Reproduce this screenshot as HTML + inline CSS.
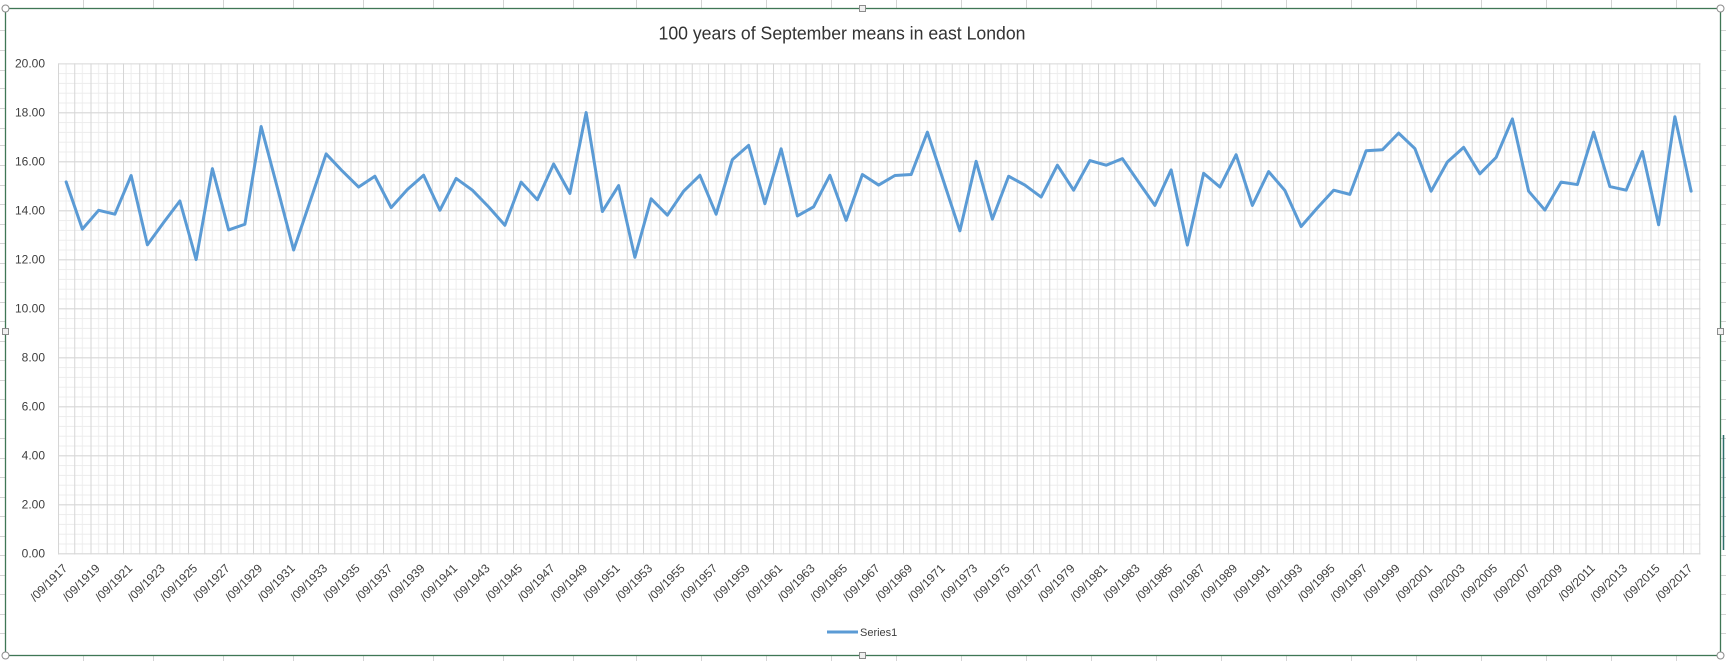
<!DOCTYPE html>
<html><head><meta charset="utf-8"><style>
html,body{margin:0;padding:0;background:#fff;}
svg{display:block;}
text{font-family:"Liberation Sans",sans-serif;}
</style></head><body>
<svg width="1726" height="661" viewBox="0 0 1726 661" xmlns="http://www.w3.org/2000/svg">
<defs>
<pattern id="minor" patternUnits="userSpaceOnUse" x="58" y="63.3" width="16.25" height="9.8">
<rect x="7.6" y="0" width="1" height="9.8" fill="#eeeeee"/>
<rect x="0" y="0" width="16.25" height="1" fill="#ececec"/>
</pattern>
<pattern id="major" patternUnits="userSpaceOnUse" x="58" y="63.3" width="16.25" height="49">
<rect x="0" y="0" width="1" height="49" fill="#d6d6d6"/>
<rect x="0" y="0" width="16.25" height="1" fill="#d6d6d6"/>
</pattern>
</defs>
<g stroke="#d4d4d4" stroke-width="1">
<path d="M83.5,0V8 M153.5,0V8 M223.5,0V8 M293.5,0V8 M363.5,0V8 M433.5,0V8 M503.5,0V8 M573.5,0V8 M636.5,0V8 M701.5,0V8 M766.5,0V8 M831.5,0V8 M896.5,0V8 M961.5,0V8 M1026.5,0V8 M1091.5,0V8 M1156.5,0V8 M1221.5,0V8 M1286.5,0V8 M1351.5,0V8 M1416.5,0V8 M1481.5,0V8 M1546.5,0V8 M1611.5,0V8 M1676.5,0V8"/>
<path d="M83.5,655V661 M153.5,655V661 M223.5,655V661 M293.5,655V661 M363.5,655V661 M433.5,655V661 M503.5,655V661 M573.5,655V661 M636.5,655V661 M701.5,655V661 M766.5,655V661 M831.5,655V661 M896.5,655V661 M961.5,655V661 M1026.5,655V661 M1091.5,655V661 M1156.5,655V661 M1221.5,655V661 M1286.5,655V661 M1351.5,655V661 M1416.5,655V661 M1481.5,655V661 M1546.5,655V661 M1611.5,655V661 M1676.5,655V661"/>
<path d="M0,30.5H5 M0,50.5H5 M0,70.5H5 M0,88.5H5 M0,108.5H5 M0,128.5H5 M0,145.5H5 M0,165.5H5 M0,185.5H5 M0,204.5H5 M0,224.5H5 M0,243.5H5 M0,263.5H5 M0,282.5H5 M0,302.5H5 M0,321.5H5 M0,341.5H5 M0,360.5H5 M0,380.5H5 M0,399.5H5 M0,419.5H5 M0,438.5H5 M0,458.5H5 M0,477.5H5 M0,497.5H5 M0,516.5H5 M0,536.5H5 M0,555.5H5 M0,575.5H5 M0,594.5H5 M0,614.5H5 M0,633.5H5"/>
<path d="M1721,30.5H1726 M1721,50.5H1726 M1721,70.5H1726 M1721,88.5H1726 M1721,108.5H1726 M1721,128.5H1726 M1721,145.5H1726 M1721,165.5H1726 M1721,185.5H1726 M1721,204.5H1726 M1721,224.5H1726 M1721,243.5H1726 M1721,263.5H1726 M1721,282.5H1726 M1721,302.5H1726 M1721,321.5H1726 M1721,341.5H1726 M1721,360.5H1726 M1721,380.5H1726 M1721,399.5H1726 M1721,419.5H1726 M1721,438.5H1726 M1721,458.5H1726 M1721,477.5H1726 M1721,497.5H1726 M1721,516.5H1726 M1721,536.5H1726 M1721,555.5H1726 M1721,575.5H1726 M1721,594.5H1726 M1721,614.5H1726 M1721,633.5H1726"/>
</g>
<line x1="1723.5" y1="435" x2="1723.5" y2="550" stroke="#2f6f6a" stroke-width="1.5"/>
<rect x="5.5" y="8.5" width="1715" height="647" fill="#fff" stroke="#3f7755" stroke-width="1.3"/>
<text x="842" y="39.5" text-anchor="middle" font-size="18" fill="#333" textLength="367" lengthAdjust="spacingAndGlyphs">100 years of September means in east London</text>
<rect x="58" y="63.3" width="1642.5" height="491.2" fill="url(#minor)"/>
<rect x="58" y="63.3" width="1642.5" height="491.2" fill="url(#major)"/>
<g font-size="12" fill="#404040" text-anchor="end">
<text x="45" y="67.5">20.00</text>
<text x="45" y="116.5">18.00</text>
<text x="45" y="165.5">16.00</text>
<text x="45" y="214.5">14.00</text>
<text x="45" y="263.5">12.00</text>
<text x="45" y="312.5">10.00</text>
<text x="45" y="361.5">8.00</text>
<text x="45" y="410.5">6.00</text>
<text x="45" y="459.5">4.00</text>
<text x="45" y="508.5">2.00</text>
<text x="45" y="557.5">0.00</text>
</g>
<g transform="translate(66.125,553.3) scale(16.25,-24.5)">
<polyline vector-effect="non-scaling-stroke" fill="none" stroke="#5b9bd5" stroke-width="3" stroke-linejoin="round" stroke-linecap="round" points="0,15.16 1,13.23 2,14.0 3,13.84 4,15.42 5,12.59 6,13.5 7,14.38 8,11.99 9,15.7 10,13.2 11,13.43 12,17.42 13,14.92 14,12.38 15,14.34 16,16.3 17,15.6 18,14.95 19,15.39 20,14.11 21,14.85 22,15.43 23,14.0 24,15.3 25,14.82 26,14.14 27,13.39 28,15.15 29,14.43 30,15.89 31,14.69 32,17.99 33,13.95 34,15.01 35,12.08 36,14.47 37,13.8 38,14.78 39,15.43 40,13.84 41,16.07 42,16.65 43,14.27 44,16.51 45,13.77 46,14.14 47,15.43 48,13.59 49,15.46 50,15.03 51,15.42 52,15.46 53,17.19 54,15.18 55,13.16 56,16.0 57,13.64 58,15.39 59,15.03 60,14.54 61,15.84 62,14.82 63,16.03 64,15.84 65,16.11 66,15.15 67,14.2 68,15.65 69,12.58 70,15.51 71,14.95 72,16.27 73,14.2 74,15.58 75,14.81 76,13.34 77,14.1 78,14.82 79,14.65 80,16.43 81,16.47 82,17.15 83,16.52 84,14.78 85,15.97 86,16.57 87,15.49 88,16.16 89,17.73 90,14.78 91,14.01 92,15.15 93,15.05 94,17.19 95,14.97 96,14.82 97,16.4 98,13.41 99,17.82 100,14.78"/>
</g>
<g font-size="12" fill="#404040" text-anchor="end">
<text transform="translate(68.1,569) rotate(-45)">/09/1917</text>
<text transform="translate(100.6,569) rotate(-45)">/09/1919</text>
<text transform="translate(133.1,569) rotate(-45)">/09/1921</text>
<text transform="translate(165.6,569) rotate(-45)">/09/1923</text>
<text transform="translate(198.1,569) rotate(-45)">/09/1925</text>
<text transform="translate(230.6,569) rotate(-45)">/09/1927</text>
<text transform="translate(263.1,569) rotate(-45)">/09/1929</text>
<text transform="translate(295.6,569) rotate(-45)">/09/1931</text>
<text transform="translate(328.1,569) rotate(-45)">/09/1933</text>
<text transform="translate(360.6,569) rotate(-45)">/09/1935</text>
<text transform="translate(393.1,569) rotate(-45)">/09/1937</text>
<text transform="translate(425.6,569) rotate(-45)">/09/1939</text>
<text transform="translate(458.1,569) rotate(-45)">/09/1941</text>
<text transform="translate(490.6,569) rotate(-45)">/09/1943</text>
<text transform="translate(523.1,569) rotate(-45)">/09/1945</text>
<text transform="translate(555.6,569) rotate(-45)">/09/1947</text>
<text transform="translate(588.1,569) rotate(-45)">/09/1949</text>
<text transform="translate(620.6,569) rotate(-45)">/09/1951</text>
<text transform="translate(653.1,569) rotate(-45)">/09/1953</text>
<text transform="translate(685.6,569) rotate(-45)">/09/1955</text>
<text transform="translate(718.1,569) rotate(-45)">/09/1957</text>
<text transform="translate(750.6,569) rotate(-45)">/09/1959</text>
<text transform="translate(783.1,569) rotate(-45)">/09/1961</text>
<text transform="translate(815.6,569) rotate(-45)">/09/1963</text>
<text transform="translate(848.1,569) rotate(-45)">/09/1965</text>
<text transform="translate(880.6,569) rotate(-45)">/09/1967</text>
<text transform="translate(913.1,569) rotate(-45)">/09/1969</text>
<text transform="translate(945.6,569) rotate(-45)">/09/1971</text>
<text transform="translate(978.1,569) rotate(-45)">/09/1973</text>
<text transform="translate(1010.6,569) rotate(-45)">/09/1975</text>
<text transform="translate(1043.1,569) rotate(-45)">/09/1977</text>
<text transform="translate(1075.6,569) rotate(-45)">/09/1979</text>
<text transform="translate(1108.1,569) rotate(-45)">/09/1981</text>
<text transform="translate(1140.6,569) rotate(-45)">/09/1983</text>
<text transform="translate(1173.1,569) rotate(-45)">/09/1985</text>
<text transform="translate(1205.6,569) rotate(-45)">/09/1987</text>
<text transform="translate(1238.1,569) rotate(-45)">/09/1989</text>
<text transform="translate(1270.6,569) rotate(-45)">/09/1991</text>
<text transform="translate(1303.1,569) rotate(-45)">/09/1993</text>
<text transform="translate(1335.6,569) rotate(-45)">/09/1995</text>
<text transform="translate(1368.1,569) rotate(-45)">/09/1997</text>
<text transform="translate(1400.6,569) rotate(-45)">/09/1999</text>
<text transform="translate(1433.1,569) rotate(-45)">/09/2001</text>
<text transform="translate(1465.6,569) rotate(-45)">/09/2003</text>
<text transform="translate(1498.1,569) rotate(-45)">/09/2005</text>
<text transform="translate(1530.6,569) rotate(-45)">/09/2007</text>
<text transform="translate(1563.1,569) rotate(-45)">/09/2009</text>
<text transform="translate(1595.6,569) rotate(-45)">/09/2011</text>
<text transform="translate(1628.1,569) rotate(-45)">/09/2013</text>
<text transform="translate(1660.6,569) rotate(-45)">/09/2015</text>
<text transform="translate(1693.1,569) rotate(-45)">/09/2017</text>
</g>
<line x1="827" y1="632" x2="858" y2="632" stroke="#5b9bd5" stroke-width="3"/>
<text x="860" y="636" font-size="11" fill="#404040">Series1</text>
<g fill="#fff" stroke="#8c8c8c" stroke-width="1">
<circle cx="5.5" cy="8.5" r="3.5"/>
<circle cx="1720.5" cy="8.5" r="3.5"/>
<circle cx="5.5" cy="655.5" r="3.5"/>
<circle cx="1720.5" cy="655.5" r="3.5"/>
<rect x="859.5" y="5.5" width="6" height="6" fill="#f0f0f0"/>
<rect x="859.5" y="652.5" width="6" height="6" fill="#f0f0f0"/>
<rect x="2.5" y="328.5" width="6" height="6" fill="#f0f0f0"/>
<rect x="1717.5" y="328.5" width="6" height="6" fill="#f0f0f0"/>
</g>
</svg>
</body></html>
